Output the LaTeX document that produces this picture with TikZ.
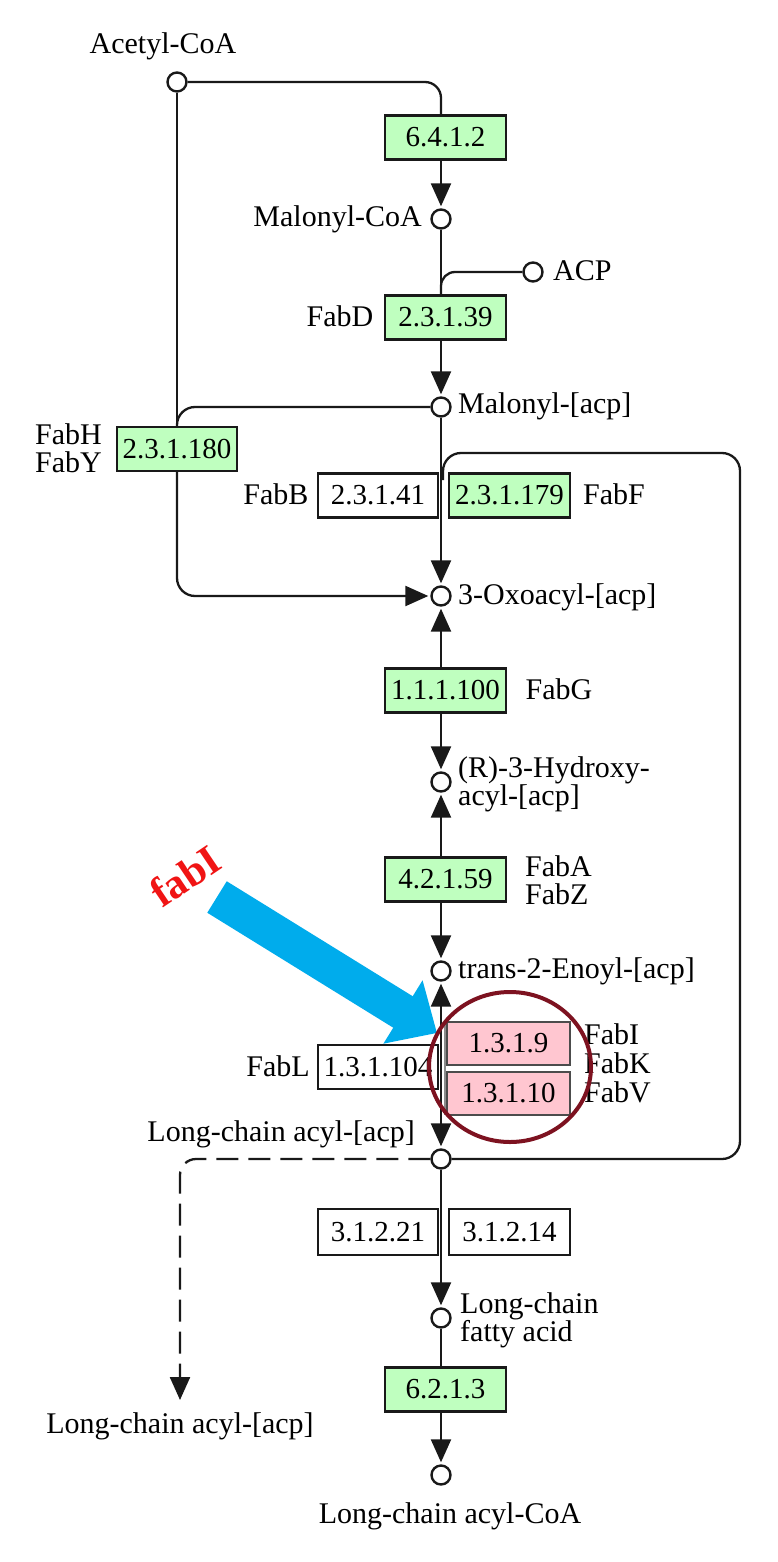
\documentclass[tikz,border=0pt]{standalone}
\usepackage{fontspec}
\setmainfont{Liberation Serif}
\usetikzlibrary{arrows.meta,shapes.geometric}
\definecolor{kgreen}{RGB}{191,255,191}
\definecolor{kpink}{RGB}{255,198,208}
\definecolor{kred}{RGB}{125,18,32}
\definecolor{kblue}{RGB}{0,172,236}
\definecolor{fabred}{RGB}{240,20,20}
\definecolor{kline}{RGB}{25,25,25}
\begin{document}
\begin{tikzpicture}[x=1pt,y=-1pt,
  met/.style={circle,draw=kline,line width=2.4pt,minimum size=19pt,inner sep=0pt,fill=white},
  ec/.style={draw=kline,line width=2.2pt,minimum width=121pt,minimum height=44pt,inner sep=0pt,
    font=\fontsize{29}{31}\selectfont},
  ecg/.style={ec,fill=kgreen},
  ecw/.style={ec,fill=white},
  ecp/.style={ec,fill=kpink,draw=black!70,minimum width=123pt,minimum height=43pt},
  lab/.style={font=\fontsize{30}{33}\selectfont,inner sep=0pt,text height=21pt,text depth=7pt},
  conn/.style={line width=2.3pt,draw=kline},
  arr/.style={conn,-{Triangle[width=20pt,length=23pt]},shorten >=2pt},
]
\fill[white] (0,0) rectangle (778,1562);
\useasboundingbox (0,0) rectangle (778,1562);

% metabolites
\node[met] (acetyl) at (177,82) {};
\node[met] (malcoa) at (441,219) {};
\node[met] (acp) at (533,272) {};
\node[met] (malacp) at (441,407) {};
\node[met] (oxo) at (441,596) {};
\node[met] (hydroxy) at (441,782) {};
\node[met] (enoyl) at (441,971) {};
\node[met] (lcacp) at (441,1159) {};
\node[met] (lcfa) at (441,1318) {};
\node[met] (lccoa) at (441,1475) {};

% metabolite labels
\node[lab] (tAcetyl) at (163,47) {Acetyl-CoA};
\node[lab,anchor=east] (tMalcoa) at (422,220) {Malonyl-CoA};
\node[lab,anchor=west] (tAcp) at (553,273) {ACP};
\node[lab,anchor=west] (tMalacp) at (458,406) {Malonyl-[acp]};
\node[lab,anchor=west] (tOxo) at (458,597) {3-Oxoacyl-[acp]};
\node[lab,anchor=west] (tHyd1) at (458,770) {(R)-3-Hydroxy-};
\node[lab,anchor=west] (tHyd2) at (458,798) {acyl-[acp]};
\node[lab,anchor=west] (tEnoyl) at (458,971) {trans-2-Enoyl-[acp]};
\node[lab,anchor=east] (tLcacp) at (415,1134) {Long-chain acyl-[acp]};
\node[lab,anchor=west] (tLcfa1) at (460,1306) {Long-chain};
\node[lab,anchor=west] (tLcfa2) at (460,1334) {fatty acid};
\node[lab] (tLcacp2) at (180,1426) {Long-chain acyl-[acp]};
\node[lab] (tLccoa) at (450,1516) {Long-chain acyl-CoA};

% enzymes
\node[ecg] (e6412) at (445.5,137.5) {6.4.1.2};
\node[ecg] (e23139) at (445.5,317.5) {2.3.1.39};
\node[ecg,minimum width=120pt] (e231180) at (177,449) {2.3.1.180};
\node[ecw,minimum width=120pt] (e23141) at (378,495.5) {2.3.1.41};
\node[ecg] (e231179) at (509.5,495.5) {2.3.1.179};
\node[ecg] (e111100) at (445.5,690.5) {1.1.1.100};
\node[ecg] (e42159) at (445.5,879.5) {4.2.1.59};
\node[ecw,minimum width=120pt] (e131104) at (378,1067) {1.3.1.104};
\node[ecp] (e1319) at (508.5,1043.5) {1.3.1.9};
\node[ecp] (e13110) at (508.5,1093.5) {1.3.1.10};
\node[ecw,minimum width=120pt,minimum height=46pt] (e31221) at (378,1232) {3.1.2.21};
\node[ecw,minimum height=46pt] (e31214) at (509.5,1232) {3.1.2.14};
\node[ecg] (e6213) at (445.5,1389.5) {6.2.1.3};

% gene labels
\node[lab] (gFabD) at (340,319) {FabD};
\node[lab,anchor=west] (gFabH) at (35,437) {FabH};
\node[lab,anchor=west] (gFabY) at (35,465) {FabY};
\node[lab] (gFabB) at (276,497) {FabB};
\node[lab] (gFabF) at (614,497) {FabF};
\node[lab] (gFabG) at (559,692) {FabG};
\node[lab,anchor=west] (gFabA) at (525,869) {FabA};
\node[lab,anchor=west] (gFabZ) at (525,897) {FabZ};
\node[lab,anchor=west] (gFabI) at (584,1037) {FabI};
\node[lab,anchor=west] (gFabK) at (584,1066) {FabK};
\node[lab,anchor=west] (gFabV) at (584,1095) {FabV};
\node[lab] (gFabL) at (278,1069) {FabL};

% connectors
\draw[conn,rounded corners=16pt] (acetyl.east) -| (malcoa |- e6412.north);
\draw[arr] (malcoa |- e6412.south) -- (malcoa.north);
\draw[conn] (malcoa.south) -- (malcoa |- e23139.north);
\draw[conn,rounded corners=14pt] (acp.west) -| (malcoa |- e23139.north);
\draw[arr] (malcoa |- e23139.south) -- (malacp.north);
\draw[conn,rounded corners=18pt] (malacp.west) -| (e231180.north);
\draw[conn] (acetyl.south) -- (e231180.north);
\draw[arr,rounded corners=18pt] (e231180.south) |- (oxo.west);
\draw[arr] (malacp.south) -- (oxo.north);
\draw[arr] (oxo |- e111100.north) -- (oxo.south);
\draw[arr] (oxo |- e111100.south) -- (hydroxy.north);
\draw[arr] (oxo |- e42159.north) -- (hydroxy.south);
\draw[arr] (oxo |- e42159.south) -- (enoyl.north);
\coordinate (redmid) at (441,1067);
\draw[arr] (redmid) -- (enoyl.south);
\draw[arr] (redmid) -- (lcacp.north);
\coordinate (grayTop) at (444.5,1022);
\coordinate (grayBot) at (444.5,1115);
\draw[line width=2pt,draw=black!45] (grayTop) -- (grayBot);
\coordinate (loopR) at (740,453);
\coordinate (loopJ) at (443,480);
\draw[conn,rounded corners=18pt] (lcacp.east) -| (loopR) -| (loopJ);
\draw[arr] (lcacp.south) -- (lcfa.north);
\draw[conn] (lcfa.south) -- (lcfa |- e6213.north);
\draw[arr] (lcfa |- e6213.south) -- (lccoa.north);
\coordinate (dashEnd) at (180,1400);
\draw[arr,dash pattern=on 22pt off 10pt,rounded corners=16pt,shorten >=0pt] (lcacp.west) -| (dashEnd);

% annotation
\coordinate (bTail) at (217,897);
\coordinate (bTip) at (437,1033);
\draw[kblue,line width=37pt,-{Triangle[width=72pt,length=40pt]}] (bTail) -- (bTip);
\node[text=fabred,font=\bfseries\fontsize{42}{44}\selectfont,rotate=34,inner sep=0pt] (fabI) at (185,876) {fabI};
\node[ellipse,draw=kred,line width=4pt,minimum width=162pt,minimum height=150pt,inner sep=0pt] (hl) at (510,1067) {};
\end{tikzpicture}
\end{document}
